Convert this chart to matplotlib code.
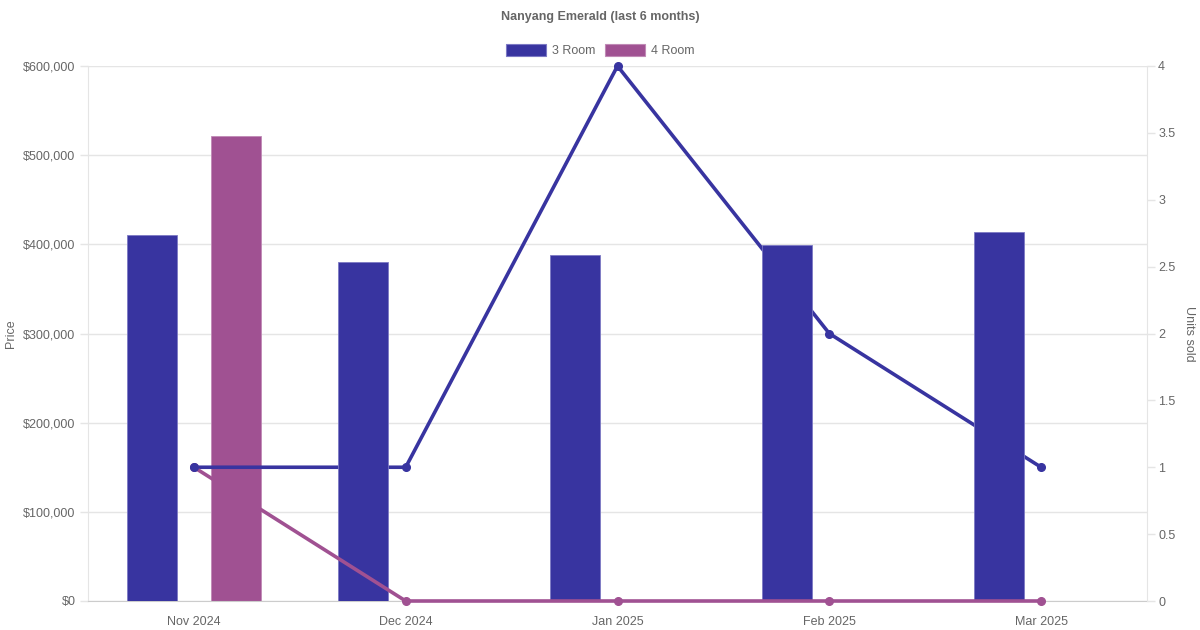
import numpy as np
import matplotlib
matplotlib.use("Agg")
import matplotlib.pyplot as plt
from matplotlib.patches import Rectangle

months = ["Nov 2024", "Dec 2024", "Jan 2025", "Feb 2025", "Mar 2025"]
price_3room = [410000, 380000, 388000, 399000, 414000]
price_4room = [521000, np.nan, np.nan, np.nan, np.nan]
units_3room = [1, 1, 4, 2, 1]
units_4room = [1, 0, 0, 0, 0]
series_names = ["3 Room", "4 Room"]

C3 = "#3834a0"
C4 = "#a05192"
TXT = "#666666"
GRID = "#e5e5e5"
FS = 9

plt.rcParams['font.family'] = ['Liberation Sans', 'DejaVu Sans']

fig = plt.figure(figsize=(12, 6.3), dpi=100)
W, H = 1200, 630
ax = fig.add_axes([88 / W, 1 - 601 / H, (1147 - 88) / W, (601 - 66) / H])
ax2 = ax.twinx()

x = np.arange(len(months))
off = 0.2
bw = 0.236

ax.bar(x + off, price_4room, width=bw, color=C4, edgecolor="#c08ab6", linewidth=0.6, zorder=1)
ax2.plot(x, units_3room, color=C3, lw=2.6, solid_capstyle="round", clip_on=False)

ax.set_xlim(-0.5, len(months) - 0.5)
ax.set_ylim(0, 600000)
ax2.set_ylim(0, 4)

ax3 = fig.add_axes(ax.get_position(), sharex=ax, frameon=False)
ax3.set_ylim(0, 600000)
ax3.bar(x - off, price_3room, width=bw, color=C3, edgecolor="#7c79c4", linewidth=0.6)
ax3.axis("off")
ax4 = fig.add_axes(ax.get_position(), sharex=ax, frameon=False)
ax4.set_ylim(0, 4)
ax4.plot(x, units_4room, color=C4, lw=2.6, marker="o", ms=5.5, solid_capstyle="round", clip_on=False)
ax4.plot(x, units_3room, color=C3, lw=0, marker="o", ms=5.5, clip_on=False)
ax4.axis("off")

# stacking: 4R bars < 3R line < 3R bars < 4R line < 3R points
ax.set_zorder(1)
ax2.set_zorder(2)
ax3.set_zorder(3)
ax4.set_zorder(4)
ax2.patch.set_visible(False)
ax.patch.set_facecolor("white")

ax.set_yticks(np.arange(0, 600001, 100000))
ax.yaxis.set_major_formatter(matplotlib.ticker.FuncFormatter(lambda v, p: f"${v:,.0f}"))
ax.grid(axis="y", color=GRID, lw=1)
ax.set_axisbelow(True)
ax.set_xticks(x)
ax.set_xticklabels(months)
ax.tick_params(axis="x", length=0, pad=11, colors=TXT, labelsize=FS)
ax.tick_params(axis="y", length=6, width=1, color=GRID, pad=3, labelcolor=TXT, labelsize=FS)

ax2.set_yticks(np.arange(0, 4.01, 0.5))
ax2.yaxis.set_major_formatter(matplotlib.ticker.FuncFormatter(lambda v, p: f"{v:g}"))
ax2.tick_params(axis="y", length=6, width=1, color=GRID, pad=2, labelcolor=TXT, labelsize=FS)

for a in (ax, ax2):
    for s in a.spines.values():
        s.set_visible(False)
ax.spines["left"].set_visible(True)
ax.spines["left"].set_color(GRID)
ax.spines["bottom"].set_visible(True)
ax.spines["bottom"].set_color("#cccccc")
ax2.spines["right"].set_visible(True)
ax2.spines["right"].set_color(GRID)

fig.text(11 / W, 1 - 334 / H, "Price", rotation=90, ha="center", va="center", color=TXT, fontsize=FS)
fig.text(1189 / W, 1 - 334 / H, "Units sold", rotation=270, ha="center", va="center", color=TXT, fontsize=FS)

fig.text(600 / W, 1 - 17 / H, "Nanyang Emerald (last 6 months)", ha="center", va="center",
         color=TXT, fontsize=FS, fontweight="bold")

# legend
for (bx, tx, col, ec, name) in [(506, 552, C3, "#7c79c4", series_names[0]),
                                 (605, 651, C4, "#c08ab6", series_names[1])]:
    fig.patches.append(Rectangle((bx / W, 1 - 56 / H), 40 / W, 12 / H, transform=fig.transFigure,
                                 facecolor=col, edgecolor=ec, lw=0.8))
    fig.text(tx / W, 1 - 51 / H, name, ha="left", va="center", color=TXT, fontsize=FS)

fig.savefig("out.png", dpi=100, facecolor="white")
